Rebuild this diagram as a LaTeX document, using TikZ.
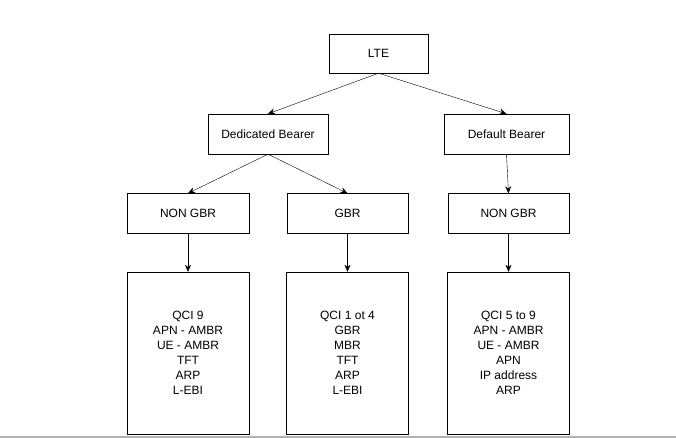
\documentclass[tikz,border=0pt]{standalone}
\usepackage{fontspec}
\setmainfont{Liberation Sans}
\usetikzlibrary{arrows.meta,positioning}
\begin{document}
\begin{tikzpicture}[x=1pt,y=-1pt,every node/.style={draw,font=\fontsize{12}{15}\selectfont,inner sep=0pt},
        box/.style={minimum width=121pt,minimum height=40pt},
        listbox/.style={minimum width=122pt,minimum height=162pt,align=center},
        arr/.style={-{Stealth[length=7pt,width=6pt]}}]
        \useasboundingbox (0,0) rectangle (676,438);
        \fill[gray!60] (0,435.5) rectangle (676,438);

        \node[minimum width=99pt,minimum height=39pt] (LTE) at (378.5,53.5) {LTE};

        \node[box,minimum width=120pt] (DED) at (268,134) {Dedicated Bearer};
        \node[box,minimum width=125pt] (DEF) at (506.5,134) {Default Bearer};

        \node[box,minimum width=122pt] (NG1) at (188,213.5) {NON GBR};
        \node[box] (GBR) at (347.5,213.5) {GBR};
        \node[box] (NG2) at (508.5,213.5) {NON GBR};

        \node[listbox] (L1) at (188,353) {QCI 9\\APN - AMBR\\UE - AMBR\\TFT\\ARP\\L-EBI};
        \node[listbox] (L2) at (347.5,353) {QCI 1 ot 4\\GBR\\MBR\\TFT\\ARP\\L-EBI};
        \node[listbox] (L3) at (508.5,353) {QCI 5 to 9\\APN - AMBR\\UE - AMBR\\APN\\IP address\\ARP};

        \draw[arr] (LTE.south) -- (DED.north);
        \draw[arr] (LTE.south) -- (DEF.north);
        \draw[arr] (DED.south) -- (NG1.north);
        \draw[arr] (DED.south) -- (GBR.north);
        \draw[arr] (DEF.south) -- (NG2.north);
        \draw[arr] (NG1) -- (L1);
        \draw[arr] (GBR) -- (L2);
        \draw[arr] (NG2) -- (L3);
\end{tikzpicture}
\end{document}
